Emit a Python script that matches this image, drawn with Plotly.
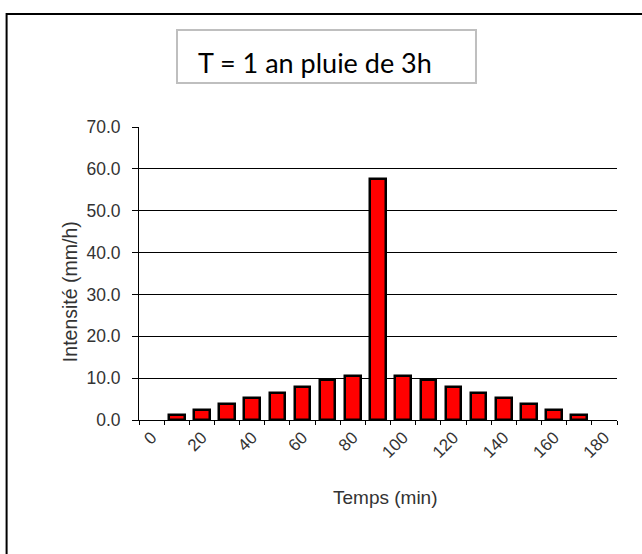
import plotly.graph_objects as go

# Temps (min) et intensité (mm/h)
temps = [0, 10, 20, 30, 40, 50, 60, 70, 80, 90, 100, 110, 120, 130, 140, 150, 160, 170, 180]
intensite = [None, 1.2, 2.3, 3.8, 5.3, 6.4, 7.9, 9.5, 10.4, 57.6,
             10.4, 9.5, 7.9, 6.4, 5.3, 3.8, 2.3, 1.2, None]
x_labels = [0, 20, 40, 60, 80, 100, 120, 140, 160, 180]
y_ticks = [0, 10, 20, 30, 40, 50, 60, 70]

titre = "T = 1 an pluie de 3h"
titre_x = "Temps (min)"
titre_y = "Intensité (mm/h)"

FONT = "Liberation Sans, Arial, sans-serif"
GREY = "#333333"

fig = go.Figure()
fig.add_trace(go.Bar(
    x=temps, y=intensite, width=6.2,
    marker=dict(color="#ff0000", line=dict(color="black", width=2.5)),
    showlegend=False,
))

fig.update_layout(
    width=642, height=554,
    margin=dict(l=139, r=25, t=127, b=134),
    paper_bgcolor="white", plot_bgcolor="white",
    font=dict(family=FONT, size=17, color=GREY),
    bargap=0,
    xaxis=dict(
        range=[-5, 185], tickmode="array", tickvals=x_labels,
        ticktext=[str(v) for v in x_labels], tickangle=-45,
        ticks="", showgrid=False, zeroline=False,
        showline=True, linecolor="black", linewidth=1,
        tickfont=dict(family=FONT, size=17, color=GREY),
        minor=dict(tick0=-5, dtick=10, ticks="outside", ticklen=4,
                   tickcolor="black", tickwidth=1, showgrid=False),
    ),
    xaxis2=dict(
        overlaying="x", matches="x", range=[-5, 185], side="bottom",
        showticklabels=False, ticks="", showgrid=False, zeroline=False,
        minor=dict(tick0=-5, dtick=10, ticks="inside", ticklen=4,
                   tickcolor="black", tickwidth=1, showgrid=False),
    ),
    yaxis=dict(
        range=[0, 70], tickmode="array", tickvals=y_ticks, tickformat=".1f",
        ticks="outside", ticklen=6, tickcolor="black", ticklabelstandoff=8,
        showgrid=True, gridcolor="black", gridwidth=1,
        zeroline=False, showline=True, linecolor="black", linewidth=1,
        tickfont=dict(family=FONT, size=17.5, color=GREY),
    ),
)

# cadre extérieur (bords gauche et haut seulement visibles) et cadre du titre
fig.add_shape(type="path", xref="paper", yref="paper",
              path="M -0.277,-0.6 L -0.277,1.386 L 1.3,1.386",
              line=dict(color="black", width=2), layer="below")
fig.add_shape(type="rect", xref="paper", yref="paper",
              x0=0.0795, x1=0.705, y0=1.150, y1=1.331,
              line=dict(color="#bfbfbf", width=2))

fig.add_annotation(text=titre, xref="paper", yref="paper",
                   x=0.119, y=1.22, xanchor="left", yanchor="middle",
                   showarrow=False, font=dict(family="Lato", size=27, color="black"))
fig.add_annotation(text=titre_y, xref="paper", yref="paper",
                   x=-0.144, y=0.437, xanchor="center", yanchor="middle",
                   textangle=-90, showarrow=False,
                   font=dict(family=FONT, size=19.5, color=GREY))
fig.add_annotation(text=titre_x, xref="paper", yref="paper",
                   x=0.515, y=-0.263, xanchor="center", yanchor="middle",
                   showarrow=False, font=dict(family=FONT, size=19, color=GREY))

fig.write_html("out.html", config={"displayModeBar": False},
               post_script="document.body.style.margin='0';")
